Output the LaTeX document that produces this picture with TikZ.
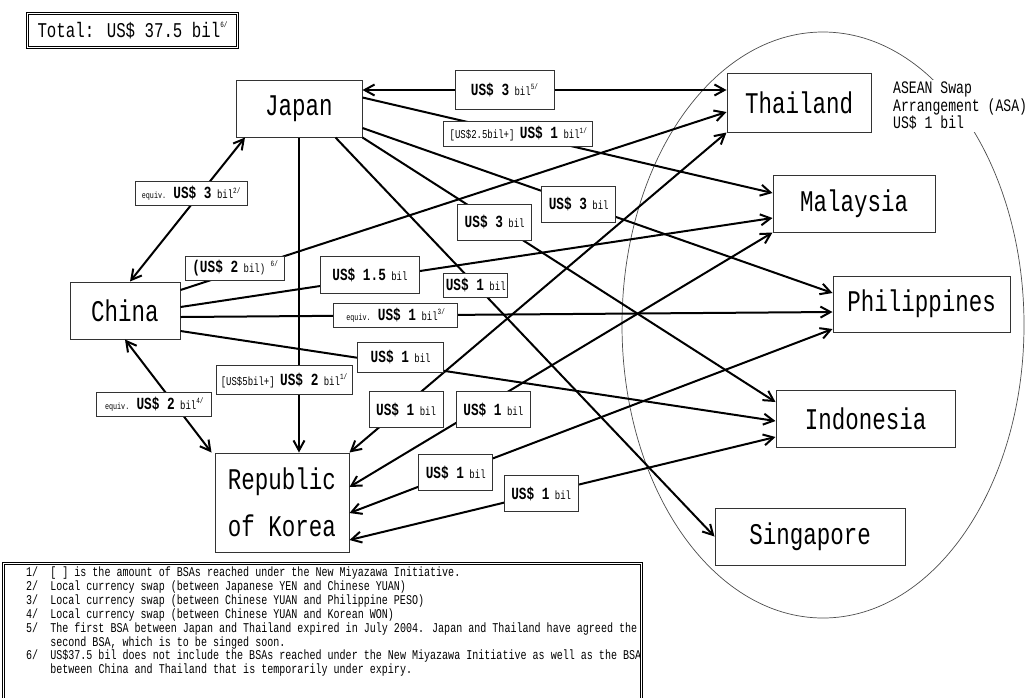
\documentclass[tikz,border=0pt]{standalone}
\usepackage{fontspec}
\usetikzlibrary{arrows.meta, positioning}
\newfontfamily\gothic[FakeStretch=0.75]{Liberation Mono}
\newcommand{\amt}[1]{{\bfseries\fontsize{17}{17}\selectfont #1}}
\newcommand{\bil}{{\fontsize{12}{12}\selectfont bil}}
\newcommand{\eqv}{{\fontsize{9}{9}\selectfont equiv.}}
\newcommand{\fn}[1]{\raisebox{0.9ex}{\fontsize{8}{8}\selectfont #1}}
\tikzset{
	country/.style={rectangle, draw=black!80, line width=1pt, fill=white, minimum height=57pt, inner sep=0pt, font=\gothic\fontsize{30}{32}\selectfont},
	lbl/.style={rectangle, draw=black!80, line width=0.7pt, fill=white, inner xsep=2pt, inner ysep=1pt, minimum height=24pt, font=\gothic\fontsize{12}{12}\selectfont},
	tall/.style={minimum width=74pt, minimum height=36pt},
	dblbox/.style={rectangle, draw, double, double distance=1.6pt, line width=0.9pt, fill=white},
	flow/.style={draw, line width=2pt, -{Straight Barb[length=10pt, width=11pt]}},
	twoway/.style={flow, {Straight Barb[length=10pt, width=11pt]}-{Straight Barb[length=10pt, width=11pt]}}
}

\begin{document}
\begin{tikzpicture}[x=1pt, y=-1pt]
    \useasboundingbox (0,0) rectangle (1030,697);
    \clip (0,0) rectangle (1030,697);
    % ASEAN circle
    \draw[black!70, line width=0.7pt] (823,325) ellipse [x radius=201pt, y radius=293pt];
    % Nodes
    \node[dblbox, minimum width=210pt, minimum height=34pt, font=\gothic\fontsize{21}{21}\selectfont] (total) at (132.5,30.5) {Total: US\$ 37.5 bil\fn{6/}};
    \node[country, minimum width=126pt] (japan) at (299,108.5) {Japan};
    \node[country, minimum width=110pt] (china) at (125,310.5) {China};
    \node[country, minimum width=134pt, minimum height=99pt, align=center] (korea) at (282,502.5) {Republic\\[15pt]of Korea};
    \node[country, minimum width=144pt, minimum height=59pt] (thai) at (799,102.5) {Thailand};
    \node[country, minimum width=162pt] (malay) at (854,203.5) {Malaysia};
    \node[country, minimum width=177pt, minimum height=56pt] (phil) at (921.5,304) {Philippines};
    \node[country, minimum width=179pt] (indo) at (865.5,418.5) {Indonesia};
    \node[country, minimum width=190pt] (sing) at (810,536.5) {Singapore};
    % Arrows from Japan
    \draw[twoway] ([yshift=18.5pt]japan.east) -- ([yshift=12.5pt]thai.west) coordinate[pos=0.39] (jt);
    \draw[flow] ([yshift=11pt]japan.east) -- ([yshift=10.5pt]malay.west) coordinate[pos=0.38] (jm);
    \draw[flow] ([yshift=-19.5pt]japan.east) -- ([yshift=11pt]phil.west) coordinate[pos=0.46] (jp);
    \draw[flow] (japan.south east) -- ([yshift=16.5pt]indo.west) coordinate[pos=0.32] (ji);
    \draw[flow] ([xshift=-27pt]japan.south east) -- (sing.west) coordinate[pos=0.37] (js);
    \draw[twoway] ([xshift=-54pt]japan.south) -- ([xshift=5pt]china.north) coordinate[pos=0.39] (jc);
    \draw[flow] (japan.south) -- (japan.south |- korea.north) coordinate[pos=0.77] (jk);
    % Arrows from China
    \draw[flow] ([yshift=20.5pt]china.east) -- ([yshift=-9.5pt]thai.west) coordinate[pos=0.1] (ct);
    \draw[flow] ([yshift=3.5pt]china.east) -- ([yshift=-14.5pt]malay.west) coordinate[pos=0.32] (cm);
    \draw[flow] ([yshift=-6.5pt]china.east) -- ([yshift=-8pt]phil.west) coordinate[pos=0.33] (cp);
    \draw[flow] ([yshift=-20.5pt]china.east) -- ([yshift=-2.5pt]indo.west) coordinate[pos=0.37] (ci);
    \draw[twoway] (china.south) -- ([xshift=-3pt]korea.north west) coordinate[pos=0.57] (ck);
    % Arrows from Korea
    \draw[twoway] (korea.north east) -- (thai.south west) coordinate[pos=0.15] (kt);
    \draw[twoway] ([yshift=15.5pt]korea.east) -- (malay.south west) coordinate[pos=0.34] (km);
    \draw[twoway] ([yshift=-10.5pt]korea.east) -- ([yshift=-25pt]phil.west) coordinate[pos=0.22] (kp);
    \draw[twoway] ([yshift=-37.5pt]korea.east) -- ([yshift=-18.5pt]indo.west) coordinate[pos=0.45] (ki);
    % Labels
    \node[lbl, minimum width=99pt, minimum height=39pt] (l-jt) at (jt) {\amt{US\$ 3} \bil\fn{5/}};
    \node[lbl, minimum width=149pt, minimum height=25pt] (l-jm) at (jm) {[US\$2.5bil+] \amt{US\$ 1} \bil\fn{1/}};
    \node[lbl, tall] (l-jp) at (jp) {\amt{US\$ 3} \bil};
    \node[lbl, tall] (l-ji) at (ji) {\amt{US\$ 3} \bil};
    \node[lbl, minimum width=63pt] (l-js) at (js) {\amt{US\$ 1} \bil};
    \node[lbl, minimum width=112pt, xshift=-9pt] (l-jc) at (jc) {\eqv{} \amt{US\$ 3} \bil\fn{2/}};
    \node[lbl, minimum width=136pt, minimum height=29pt, xshift=-15pt] (l-jk) at (jk) {[US\$5bil+] \amt{US\$ 2} \bil\fn{1/}};
    \node[lbl, minimum width=99pt, yshift=4pt] (l-ct) at (ct) {\amt{(US\$ 2} \bil) \fn{6/}};
    \node[lbl, minimum width=99pt, minimum height=37pt, yshift=4pt] (l-cm) at (cm) {\amt{US\$ 1.5} \bil};
    \node[lbl, minimum width=124pt] (l-cp) at (cp) {\eqv{} \amt{US\$ 1} \bil\fn{3/}};
    \node[lbl, minimum width=86pt, minimum height=30pt, yshift=7pt] (l-ci) at (ci) {\amt{US\$ 1} \bil};
    \node[lbl, minimum width=115pt, xshift=-20pt] (l-ck) at (ck) {\eqv{} \amt{US\$ 2} \bil\fn{4/}};
    \node[lbl, tall, yshift=-5pt] (l-kt) at (kt) {\amt{US\$ 1} \bil};
    \node[lbl, tall, yshift=-9pt] (l-km) at (km) {\amt{US\$ 1} \bil};
    \node[lbl, tall] (l-kp) at (kp) {\amt{US\$ 1} \bil};
    \node[lbl, tall] (l-ki) at (ki) {\amt{US\$ 1} \bil};
    % ASA
    \node[fill=white, inner sep=2pt, anchor=north west, align=left, font=\gothic\fontsize{17.5}{15.5}\selectfont] (asa) at (891,80) {ASEAN Swap\\Arrangement (ASA)\\US\$ 1 bil};
    % Notes
    \node[dblbox, anchor=north west, minimum width=638pt, minimum height=150pt] (notes) at (3,563) {};
    \node[anchor=north west, inner sep=0pt, font=\gothic\fontsize{13.4}{13.7}\selectfont] (notetext) at ([shift={(23pt,-4pt)}]notes.north west) {%
        \begin{tabular}{@{}l@{\hspace{12pt}}l@{}}
        1/ & [ ] is the amount of BSAs reached under the New Miyazawa Initiative.\\
        2/ & Local currency swap (between Japanese YEN and Chinese YUAN)\\
        3/ & Local currency swap (between Chinese YUAN and Philippine PESO)\\
        4/ & Local currency swap (between Chinese YUAN and Korean WON)\\
        5/ & The first BSA between Japan and Thailand expired in July 2004. Japan and Thailand have agreed the\\
           & second BSA, which is to be singed soon.\\
        6/ & US\$37.5 bil does not include the BSAs reached under the New Miyazawa Initiative as well as the BSA\\
           & between China and Thailand that is temporarily under expiry.
        \end{tabular}};
\end{tikzpicture}
\end{document}
